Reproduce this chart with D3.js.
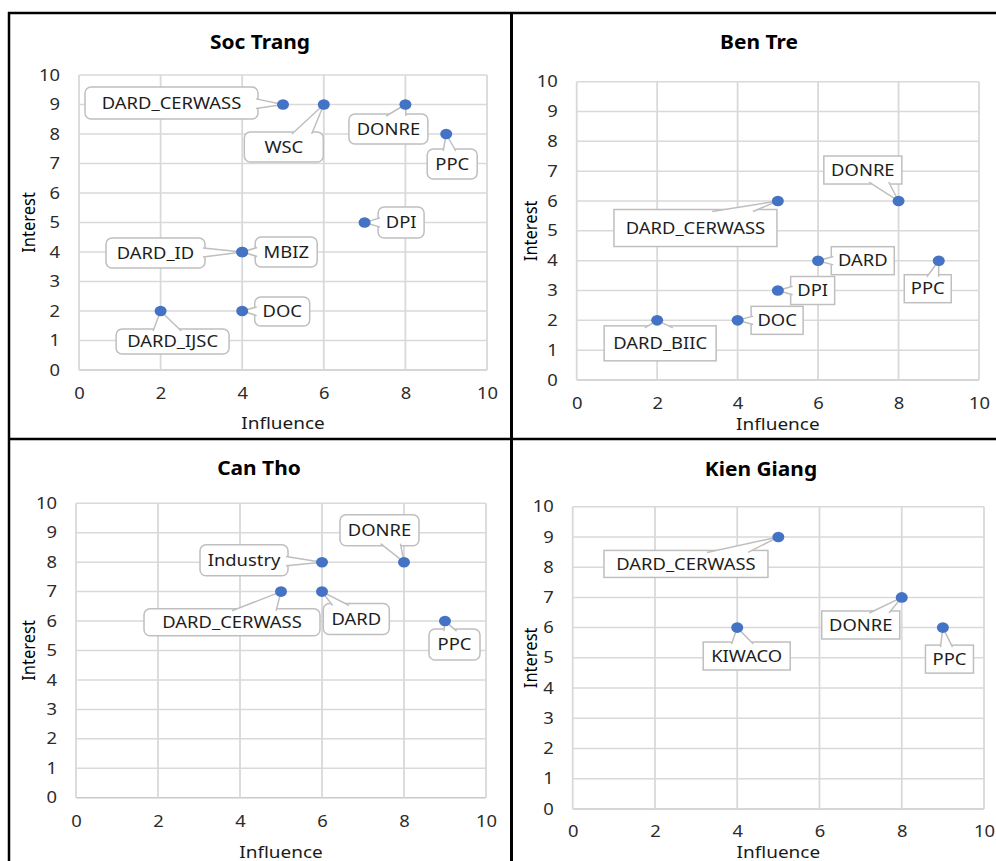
<!DOCTYPE html>
<html>
<head>
<meta charset="utf-8">
<script src="https://cdn.jsdelivr.net/npm/d3@7"></script>
<style>
  body { margin: 0; background: #fff; }
  text { font-family: "Noto Sans", "Open Sans", sans-serif; }
</style>
</head>
<body>
<div id="chart"></div>
<script>
// 數據
const panelTitles = ["Soc Trang", "Ben Tre", "Can Tho", "Kien Giang"];
const xTicks = [0, 2, 4, 6, 8, 10];
const yTicks = [0, 1, 2, 3, 4, 5, 6, 7, 8, 9, 10];

const socTrangNames = ["DARD_CERWASS", "WSC", "DONRE", "PPC", "DPI", "MBIZ", "DARD_ID", "DOC", "DARD_IJSC"];
const socTrangInfluence = [5, 6, 8, 9, 7, 4, 4, 4, 2];
const socTrangInterest = [9, 9, 9, 8, 5, 4, 4, 2, 2];

const benTreNames = ["DONRE", "DARD_CERWASS", "DARD", "DPI", "PPC", "DOC", "DARD_BIIC"];
const benTreInfluence = [8, 5, 6, 5, 9, 4, 2];
const benTreInterest = [6, 6, 4, 3, 4, 2, 2];

const canThoNames = ["DONRE", "Industry", "DARD_CERWASS", "DARD", "PPC"];
const canThoInfluence = [8, 6, 5, 6, 9];
const canThoInterest = [8, 8, 7, 7, 6];

const kienGiangNames = ["DARD_CERWASS", "DONRE", "KIWACO", "PPC"];
const kienGiangInfluence = [5, 8, 4, 9];
const kienGiangInterest = [9, 7, 6, 6];

// 標註框位置 (相對於點的偏移 dx, dy, 寬, 高)
const socTrangCallouts = [[-111.5, -1.5, 173, 32], [-40, 42.5, 79, 30], [-17, 24.5, 79, 30], [6, 30, 50, 30],
    [36.5, 0, 46, 31], [44, 0, 62, 30], [-86.7, 1, 99, 30], [40, 0.5, 55, 29], [12, 30.5, 113, 25]];
const benTreCallouts = [[-35.7, -31, 78, 28], [-82.4, 27, 163, 37], [44.7, 0, 63, 28], [34.8, 0, 44, 28],
    [-11, 28, 47, 28], [39.5, 0, 52, 28], [3, 23, 112, 35]];
const canThoCallouts = [[-24.5, -32, 79, 31], [-78, -2, 88, 31], [-49, 30.7, 176, 27], [34.3, 27.4, 66, 31], [9.5, 23.5, 51, 31]];
const kienGiangCallouts = [[-92.4, 27, 164, 27], [-41, 27.6, 78, 28], [9.5, 28.4, 87, 28], [6.6, 31.5, 48, 28]];

// 版面
const W = 996, H = 861;
const SX = 1.15; // 文字水平拉伸
const frames = [
    { plot: [79, 75, 487, 370], title: [260, 42], xTitleY: 423, yTitleX: 28, round: 6, xPad: 18 },
    { plot: [576.7, 81.7, 979, 380], title: [759, 42], xTitleY: 424, yTitleX: 530, round: 0, xPad: 18 },
    { plot: [76, 503.3, 486, 797.7], title: [259, 468], xTitleY: 852, yTitleX: 28, round: 6, xPad: 18 },
    { plot: [572.7, 506.7, 984, 809], title: [761, 469], xTitleY: 852, yTitleX: 530, round: 0, xPad: 16.5 }
];
const series = [
    [socTrangNames, socTrangInfluence, socTrangInterest, socTrangCallouts],
    [benTreNames, benTreInfluence, benTreInterest, benTreCallouts],
    [canThoNames, canThoInfluence, canThoInterest, canThoCallouts],
    [kienGiangNames, kienGiangInfluence, kienGiangInterest, kienGiangCallouts]
];

const svg = d3.select("#chart").append("svg")
    .attr("width", W).attr("height", H);

// 楔形引線
function wedgePath(b, p) {
    const dxn = (p[0] - b.cx) / (b.w / 2), dyn = (p[1] - b.cy) / (b.h / 2);
    let b1, b2;
    if (Math.abs(dyn) >= Math.abs(dxn)) {
        const y = dyn < 0 ? b.y0 + 2 : b.y1 - 2;
        const bw = Math.max(8, 0.25 * b.w);
        let c = b.cx + 0.45 * (p[0] - b.cx);
        c = Math.max(b.x0 + bw / 2 + 4, Math.min(b.x1 - bw / 2 - 4, c));
        b1 = [c - bw / 2, y]; b2 = [c + bw / 2, y];
    } else {
        const x = dxn < 0 ? b.x0 + 2 : b.x1 - 2;
        const bw = Math.max(8, 0.3 * b.h);
        let c = b.cy + 0.45 * (p[1] - b.cy);
        c = Math.max(b.y0 + bw / 2 + 3, Math.min(b.y1 - bw / 2 - 3, c));
        b1 = [x, c - bw / 2]; b2 = [x, c + bw / 2];
    }
    return `M${b1[0]},${b1[1]}L${p[0]},${p[1]}L${b2[0]},${b2[1]}`;
}

function drawPanel(i) {
    const f = frames[i];
    const [names, infl, inter, callouts] = series[i];
    const [x0, y0, x1, y1] = f.plot;
    const g = svg.append("g");

    const x = d3.scaleLinear().domain([0, 10]).range([x0, x1]);
    const y = d3.scaleLinear().domain([0, 10]).range([y1, y0]);

    // 網格線
    g.append("g").selectAll("line").data(yTicks).join("line")
        .attr("x1", x0).attr("x2", x1)
        .attr("y1", d => y(d)).attr("y2", d => y(d))
        .attr("stroke", d => d === 0 ? "#c9c9c9" : "#d9d9d9")
        .attr("stroke-width", 1.5);
    g.append("g").selectAll("line").data(xTicks).join("line")
        .attr("x1", d => x(d)).attr("x2", d => x(d))
        .attr("y1", y0).attr("y2", y1)
        .attr("stroke", "#d9d9d9")
        .attr("stroke-width", 1.8);

    // 座標軸
    const ax = g.append("g")
        .attr("transform", `translate(0,${y1})`)
        .call(d3.axisBottom(x).tickValues(xTicks).tickSize(0).tickPadding(f.xPad));
    const ay = g.append("g")
        .attr("transform", `translate(${x0},0)`)
        .call(d3.axisLeft(y).tickValues(yTicks).tickSize(0).tickPadding(16.5));
    [ax, ay].forEach(a => {
        a.select(".domain").remove();
        a.selectAll("text")
            .attr("fill", "#2b2b2b")
            .style("font-size", "16px")
            .style("font-family", "'Noto Sans', sans-serif")
            .attr("transform", `scale(${SX},1)`);
    });

    // 標題
    g.append("text")
        .attr("transform", `translate(${f.title[0]},${f.title[1]}) scale(1.1,1)`)
        .attr("text-anchor", "middle").attr("dy", "0.35em")
        .attr("font-weight", "bold").attr("font-size", 19)
        .attr("fill", "#000")
        .text(panelTitles[i]);

    g.append("text")
        .attr("transform", `translate(${(x0 + x1) / 2},${f.xTitleY}) scale(${SX},1)`)
        .attr("text-anchor", "middle").attr("dy", "0.35em")
        .attr("font-size", 16.5).attr("fill", "#1a1a1a")
        .text("Influence");

    g.append("text")
        .attr("transform", `translate(${f.yTitleX},${(y0 + y1) / 2}) rotate(-90) scale(1,${SX})`)
        .attr("text-anchor", "middle").attr("dy", "0.35em")
        .attr("font-size", 16.5).attr("fill", "#000")
        .text("Interest");

    // 標註
    const pts = names.map((n, k) => {
        const p = [x(infl[k]), y(inter[k])];
        const c = callouts[k];
        const cx = p[0] + c[0], cy = p[1] + c[1];
        return { name: n, p, box: { cx, cy, w: c[2], h: c[3], x0: cx - c[2] / 2, x1: cx + c[2] / 2, y0: cy - c[3] / 2, y1: cy + c[3] / 2 } };
    });

    const lab = g.append("g").selectAll("g").data(pts).join("g");
    lab.append("rect")
        .attr("x", d => d.box.x0).attr("y", d => d.box.y0)
        .attr("width", d => d.box.w).attr("height", d => d.box.h)
        .attr("rx", f.round)
        .attr("fill", "#fff").attr("stroke", "#bfbfbf").attr("stroke-width", 1.5);
    lab.append("path")
        .attr("d", d => wedgePath(d.box, d.p))
        .attr("fill", "#fff").attr("stroke", "#bfbfbf").attr("stroke-width", 1.5)
        .attr("stroke-linejoin", "round");
    lab.append("text")
        .attr("transform", d => `translate(${d.box.cx},${d.box.cy}) scale(${SX},1)`)
        .attr("text-anchor", "middle").attr("dy", "0.36em")
        .attr("font-size", 16).attr("fill", "#1e1e1e")
        .text(d => d.name);

    // 數據點
    g.append("g").selectAll("ellipse").data(pts).join("ellipse")
        .attr("cx", d => d.p[0]).attr("cy", d => d.p[1])
        .attr("rx", 6).attr("ry", 5.3)
        .attr("fill", "#4472c4");
}

d3.range(4).forEach(drawPanel);

// 外框線
const borders = [[8, 13, W, 13, 2.5], [9, 12, 9, H, 2.5], [511.5, 12, 511.5, H, 3], [8, 439, W, 439, 2.5]];
svg.append("g").selectAll("line").data(borders).join("line")
    .attr("x1", d => d[0]).attr("y1", d => d[1])
    .attr("x2", d => d[2]).attr("y2", d => d[3])
    .attr("stroke", "#000").attr("stroke-width", d => d[4]);
</script>
</body>
</html>
